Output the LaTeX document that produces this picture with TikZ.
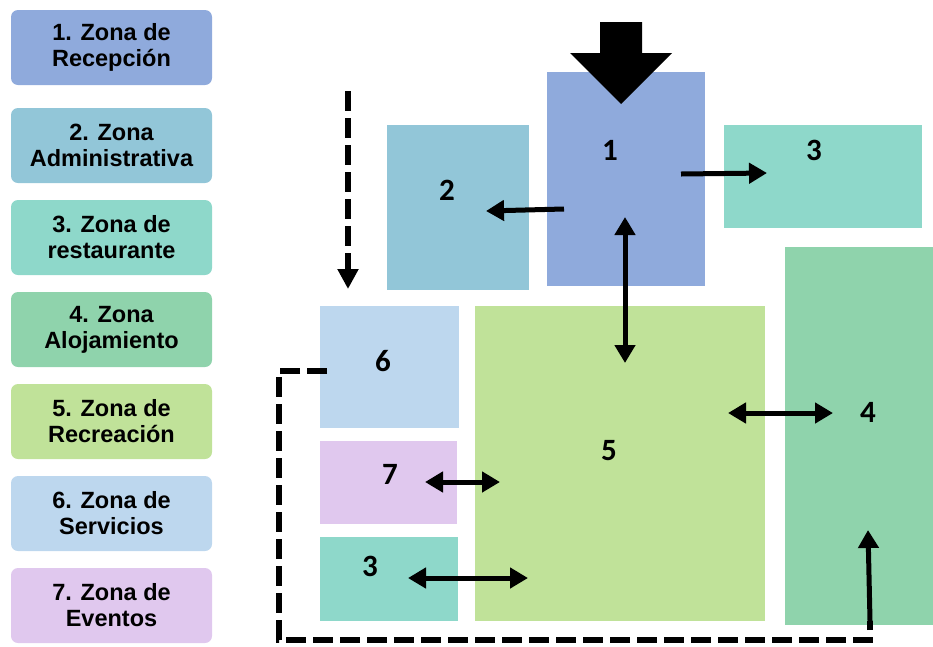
\documentclass[tikz,border=0pt]{standalone}
\usepackage{fontspec}
\setmainfont{Liberation Sans}
\newfontfamily\numfont{Carlito}
\usetikzlibrary{arrows.meta}
\definecolor{cRec}{HTML}{8FAADC}
\definecolor{cAdm}{HTML}{92C6D8}
\definecolor{cRes}{HTML}{8ED8CA}
\definecolor{cAlo}{HTML}{8FD3AC}
\definecolor{cRecr}{HTML}{C0E299}
\definecolor{cSer}{HTML}{BDD7EE}
\definecolor{cEve}{HTML}{E0C8EE}
\tikzset{
  zone/.style={draw=none, inner sep=0pt, outer sep=0pt},
  legendbox/.style={draw=none, rounded corners=7pt, inner sep=0pt, minimum width=201pt, minimum height=75pt,
    align=center, font=\bfseries\fontsize{23.5}{26}\selectfont},
  numlabel/.style={font=\numfont\bfseries\fontsize{31}{31}\selectfont, inner sep=0pt},
  flow/.style={line width=5pt, -{Triangle[length=18pt,width=20pt]}},
  biflow/.style={line width=5pt, {Triangle[length=18pt,width=20pt]}-{Triangle[length=18pt,width=20pt]}},
  dashflow/.style={line width=6pt, dash pattern=on 20pt off 7pt},
  bigarrow/.style={fill=black, draw=none}
}
\begin{document}
\begin{tikzpicture}[x=1pt, y=-1pt]
\useasboundingbox (0,0) rectangle (933,646);
% legend
\node[legendbox, fill=cRec]  (l1) at (111.5,47.5)  {1. Zona de\\Recepción};
\node[legendbox, fill=cAdm]  (l2) at (111.5,145.5) {2. Zona\\Administrativa};
\node[legendbox, fill=cRes]  (l3) at (111.5,237.5) {3. Zona de\\restaurante};
\node[legendbox, fill=cAlo]  (l4) at (111.5,329.5) {4. Zona\\Alojamiento};
\node[legendbox, fill=cRecr] (l5) at (111.5,421.5) {5. Zona de\\Recreación};
\node[legendbox, fill=cSer]  (l6) at (111.5,513.5) {6. Zona de\\Servicios};
\node[legendbox, fill=cEve]  (l7) at (111.5,605.5) {7. Zona de\\Eventos};
% zones
\node[zone, fill=cRec,  minimum width=158pt, minimum height=214pt] (b1)  at (626,179) {};
\node[zone, fill=cAdm,  minimum width=142pt, minimum height=165pt] (b2)  at (458,207.5) {};
\node[zone, fill=cRes,  minimum width=198pt, minimum height=103pt] (b3a) at (823,176.5) {};
\node[zone, fill=cAlo,  minimum width=148pt, minimum height=378pt] (b4)  at (859,436) {};
\node[zone, fill=cRecr, minimum width=290pt, minimum height=315pt] (b5)  at (620,463.5) {};
\node[zone, fill=cSer,  minimum width=139pt, minimum height=122pt] (b6)  at (389.5,367) {};
\node[zone, fill=cEve,  minimum width=137pt, minimum height=83pt]  (b7)  at (388.5,482.5) {};
\node[zone, fill=cRes,  minimum width=138pt, minimum height=84pt]  (b3b) at (389,579) {};
% labels
\node[numlabel] (n1)  at (610,150) {1};
\node[numlabel] (n2)  at (447,190) {2};
\node[numlabel] (n3a) at (814,150) {3};
\node[numlabel] (n4)  at (868,412) {4};
\node[numlabel] (n5)  at (609,451) {5};
\node[numlabel] (n6)  at (383,361) {6};
\node[numlabel] (n7)  at (390,474) {7};
\node[numlabel] (n3b) at (370,566) {3};
% big entrance arrow
\fill[bigarrow] (600,22) -- (642,22) -- (642,53) -- (672,53) -- (621,104) -- (570,53) -- (600,53) -- cycle;
% connector end points
\coordinate (p1a) at (564,209);
\coordinate (p2)  at (486,211);
\coordinate (p1b) at (681,174);
\coordinate (p3)  at (767,173);
\coordinate (p1c) at (625,217);
\coordinate (p5a) at (625,363);
\coordinate (p5b) at (728,413);
\coordinate (p4a) at (833,413);
\coordinate (p7)  at (425,482);
\coordinate (p5c) at (500,482);
\coordinate (p3b) at (408,578);
\coordinate (p5d) at (528,578);
\coordinate (din) at (348,91);
\coordinate (dout) at (348,289);
\coordinate (s6)  at (327,371);
\coordinate (c1)  at (279,371);
\coordinate (c2)  at (279,640);
\coordinate (c3)  at (870,640);
\coordinate (c4)  at (870,621);
\coordinate (p4b) at (868,530);
% connectors
\draw[flow] (p1a) -- (p2);
\draw[flow] (p1b) -- (p3);
\draw[biflow] (p1c) -- (p5a);
\draw[biflow] (p5b) -- (p4a);
\draw[biflow] (p7) -- (p5c);
\draw[biflow] (p3b) -- (p5d);
\draw[dashflow, -{Triangle[length=20pt,width=20pt]}] (din) -- (dout);
\draw[dashflow] (s6) -- (c1) -- (c2) -- (c3) -- (c4);
\draw[flow] (c4) -- (p4b);
\end{tikzpicture}
\end{document}
